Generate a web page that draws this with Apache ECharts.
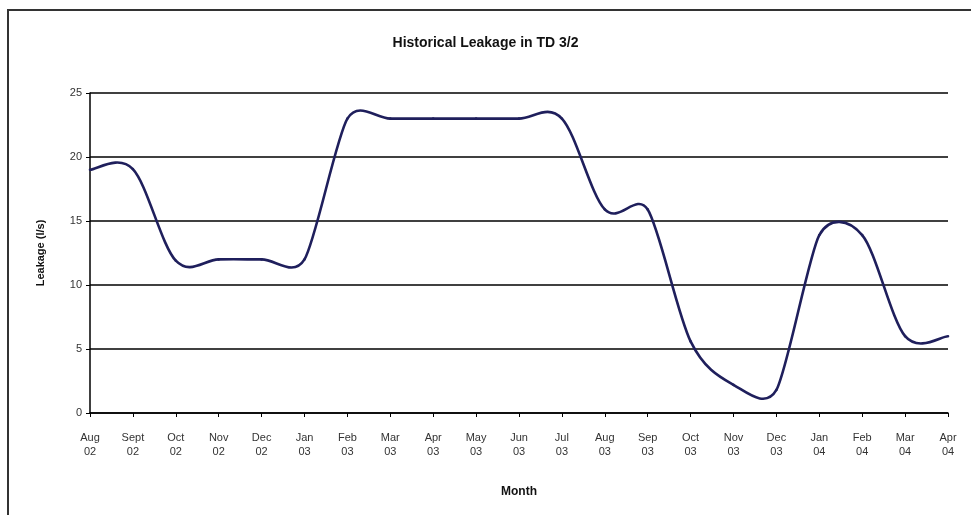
<!DOCTYPE html>
<html>
<head>
<meta charset="utf-8">
<script src="https://cdn.jsdelivr.net/npm/echarts@6/dist/echarts.min.js"></script>
<style>
html,body{margin:0;padding:0;background:#fff;}
#chart{width:971px;height:515px;}
</style>
</head>
<body>
<div id="chart"></div>
<script>
const months = ['Aug\n02','Sept\n02','Oct\n02','Nov\n02','Dec\n02','Jan\n03','Feb\n03','Mar\n03','Apr\n03','May\n03','Jun\n03','Jul\n03','Aug\n03','Sep\n03','Oct\n03','Nov\n03','Dec\n03','Jan\n04','Feb\n04','Mar\n04','Apr\n04'];
const leakage = [19.0, 19.05, 11.9, 12.0, 12.0, 12.0, 23.0, 23.0, 23.0, 23.0, 23.0, 23.0, 15.9, 15.9, 5.6, 2.2, 1.8, 13.9, 13.9, 6.0, 6.0];
const yTicks = [0, 5, 10, 15, 20, 25];

// Excel-style smoothed line: Bezier segments between the data points,
// positioned through the chart's own coordinate system (api.coord).
function arm(pPrev, p, pNext) {
  const vx = pNext[0] - pPrev[0], vy = pNext[1] - pPrev[1];
  const d02 = Math.hypot(vx, vy);
  if (d02 === 0) return [0, 0];
  const d01 = Math.hypot(p[0] - pPrev[0], p[1] - pPrev[1]);
  const d12 = Math.hypot(pNext[0] - p[0], pNext[1] - p[1]);
  let a = d02 / 6;
  if (d01 > 0) a = Math.min(a, d01 / 2);
  if (d12 > 0) a = Math.min(a, d12 / 2);
  return [vx / d02 * a, vy / d02 * a];
}

function renderSmooth(params, api) {
  const i = params.dataIndex;
  const n = leakage.length;
  if (i >= n - 1) return null;
  const pt = k => api.coord([Math.max(0, Math.min(n - 1, k)), leakage[Math.max(0, Math.min(n - 1, k))]]);
  const p0 = pt(i - 1), p1 = pt(i), p2 = pt(i + 1), p3 = pt(i + 2);
  const a1 = arm(p0, p1, p2);
  const a2 = arm(p1, p2, p3);
  return {
    type: 'bezierCurve',
    shape: {
      x1: p1[0], y1: p1[1],
      x2: p2[0], y2: p2[1],
      cpx1: p1[0] + a1[0], cpy1: p1[1] + a1[1],
      cpx2: p2[0] - a2[0], cpy2: p2[1] - a2[1]
    },
    style: {stroke: '#1f1f5c', lineWidth: 2.6, fill: null, lineCap: 'round'},
    silent: true
  };
}

const chart = echarts.init(document.getElementById('chart'));
chart.setOption({
  animation: false,
  backgroundColor: '#fff',
  title: {
    text: 'Historical Leakage in TD 3/2',
    left: 'center',
    top: 31,
    textStyle: {fontFamily: 'Liberation Sans', fontSize: 14, fontWeight: 'bold', color: '#111'}
  },
  graphic: [{
    type: 'rect', shape: {x: 8, y: 10, width: 1000, height: 600},
    style: {fill: 'none', stroke: '#333', lineWidth: 2}, silent: true
  }],
  grid: {left: 90, right: 23, top: 93, bottom: 102},
  xAxis: {
    type: 'category',
    data: months,
    boundaryGap: false,
    name: 'Month',
    nameLocation: 'middle',
    nameGap: 73,
    nameTextStyle: {fontFamily: 'Liberation Sans', fontSize: 12, fontWeight: 'bold', color: '#111'},
    axisLine: {lineStyle: {color: '#000', width: 1.5}},
    axisTick: {show: true, alignWithLabel: true, length: 4, lineStyle: {color: '#000'}},
    axisLabel: {interval: 0, fontFamily: 'Liberation Sans', fontSize: 11, color: '#333', lineHeight: 14, margin: 18},
    splitLine: {show: false}
  },
  yAxis: {
    type: 'value',
    min: yTicks[0],
    max: yTicks[yTicks.length - 1],
    interval: 5,
    name: 'Leakage (l/s)',
    nameLocation: 'middle',
    nameGap: 44,
    nameRotate: 90,
    nameTextStyle: {fontFamily: 'Liberation Sans', fontSize: 11, fontWeight: 'bold', color: '#111'},
    axisLine: {show: true, lineStyle: {color: '#000', width: 1.5}},
    axisTick: {show: true, length: 4, lineStyle: {color: '#000'}},
    axisLabel: {fontFamily: 'Liberation Sans', fontSize: 11, color: '#333', margin: 8},
    splitLine: {show: true, lineStyle: {color: '#000', width: 1.5}}
  },
  series: [{
    type: 'custom',
    name: 'Leakage',
    data: leakage.map((v, i) => [i, v]),
    encode: {x: 0, y: 1},
    renderItem: renderSmooth,
    clip: false,
    z: 3
  }]
});
</script>
</body>
</html>
